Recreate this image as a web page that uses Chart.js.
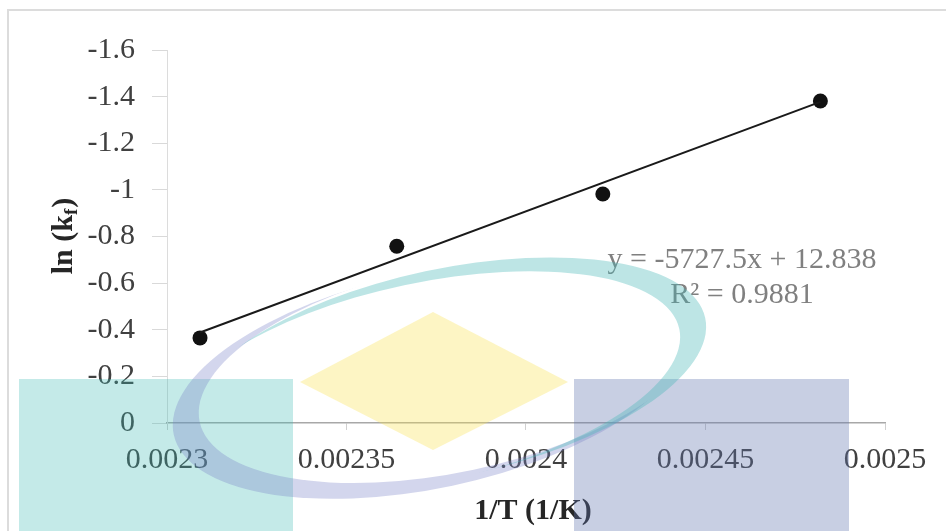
<!DOCTYPE html>
<html>
<head>
<meta charset="utf-8">
<script src="https://cdn.jsdelivr.net/npm/chart.js@4/dist/chart.umd.min.js"></script>
<style>
  html, body { margin: 0; padding: 0; background: #ffffff; }
  #wrap { width: 946px; height: 531px; position: relative; }
  canvas { display: block; }
</style>
</head>
<body>
<div id="wrap"><canvas id="c" width="946" height="531"></canvas></div>
<script>
// ---- data ----
const xValues = [0.0023092, 0.002364, 0.0024214, 0.002482];   // 1/T (1/K)
const yValues = [-0.365, -0.758, -0.982, -1.381];             // ln(kf)
const trendSlope = -5727.5;
const trendIntercept = 12.838;
const trendR2 = 0.9881;
const xTickValues = [0.0023, 0.00235, 0.0024, 0.00245, 0.0025];
const xTickLabels = ['0.0023', '0.00235', '0.0024', '0.00245', '0.0025'];
const yTickValues = [-1.6, -1.4, -1.2, -1, -0.8, -0.6, -0.4, -0.2, 0];
const yTickLabels = ['-1.6', '-1.4', '-1.2', '-1', '-0.8', '-0.6', '-0.4', '-0.2', '0'];
const xTitle = '1/T (1/K)';
const yTitleMain = 'ln (k';
const yTitleSub = 'f';
const yTitleEnd = ')';
const eqLine1 = 'y = -5727.5x + 12.838';
const eqLine2 = 'R\u00B2 = ' + trendR2;

const scatterPoints = xValues.map((x, i) => ({ x: x, y: yValues[i] }));
const xMinData = Math.min(...xValues), xMaxData = Math.max(...xValues);
const trendPoints = [xMinData, xMaxData].map(x => ({ x: x, y: trendSlope * x + trendIntercept }));

const SERIF = '"Liberation Serif", "Times New Roman", serif';

function labelFor(values, labels, v) {
  const i = values.findIndex(t => Math.abs(t - v) < 1e-9);
  return i >= 0 ? labels[i] : '';
}

const decorPlugin = {
  id: 'decor',
  beforeDraw(chart) {
    const g = chart.ctx;
    g.save();
    g.strokeStyle = '#dcdcdc';
    g.lineWidth = 2;
    g.beginPath();
    g.moveTo(8, 531); g.lineTo(8, 10); g.lineTo(946, 10);
    g.stroke();
    g.restore();
  },
  afterDraw(chart) {
    const g = chart.ctx;
    const area = chart.chartArea;
    g.save();
    // x title
    g.fillStyle = '#262626';
    g.font = 'bold 30px ' + SERIF;
    g.textAlign = 'center';
    g.textBaseline = 'alphabetic';
    g.fillText(xTitle, (area.left + area.right) / 2 + 7, 519);
    // y title (rotated, with subscript)
    g.save();
    g.translate(72, (area.top + area.bottom) / 2);
    g.rotate(-Math.PI / 2);
    const fMain = 'bold 30px ' + SERIF, fSub = 'bold 19px ' + SERIF;
    g.font = fMain; const w1 = g.measureText(yTitleMain).width; const w3 = g.measureText(yTitleEnd).width;
    g.font = fSub; const w2 = g.measureText(yTitleSub).width;
    let x0 = -(w1 + w2 + w3) / 2;
    g.textAlign = 'left';
    g.font = fMain; g.fillText(yTitleMain, x0, 0);
    g.font = fSub; g.fillText(yTitleSub, x0 + w1, 5);
    g.font = fMain; g.fillText(yTitleEnd, x0 + w1 + w2 + 1, 0);
    g.restore();
    // trendline equation
    g.fillStyle = '#808080';
    g.font = '30px ' + SERIF;
    g.textAlign = 'center';
    g.fillText(eqLine1, 742, 268);
    g.fillText(eqLine2, 742, 303);
    g.restore();

    // ---- watermark overlay ----
    const W = chart.width, H = chart.height;
    g.save();
    g.globalAlpha = 0.3;
    g.fillStyle = 'rgb(58,185,178)';
    g.fillRect(19, 379, 274, 152);
    g.globalAlpha = 0.35;
    g.fillStyle = 'rgb(98,118,175)';
    g.fillRect(574, 379, 275, 152);
    g.globalAlpha = 0.33;
    g.fillStyle = 'rgb(249,224,75)';
    g.beginPath();
    g.moveTo(433, 312); g.lineTo(568, 382); g.lineTo(433, 450); g.lineTo(300, 382);
    g.closePath(); g.fill();
    g.restore();

    function crescent(cx, cy, rx, ry, rot, dx, dy, dr, color, alpha) {
      const off = document.createElement('canvas');
      off.width = W; off.height = H;
      const o = off.getContext('2d');
      o.fillStyle = color;
      o.beginPath(); o.ellipse(cx, cy, rx, ry, rot, 0, 2 * Math.PI); o.fill();
      o.globalCompositeOperation = 'destination-out';
      o.beginPath(); o.ellipse(cx + dx, cy + dy, rx - dr, ry - dr, rot, 0, 2 * Math.PI); o.fill();
      g.save(); g.globalAlpha = alpha; g.drawImage(off, 0, 0); g.restore();
    }
    const rot = -12 * Math.PI / 180;
    crescent(430, 380, 262, 108, rot, 22, -12, 4, 'rgb(120,128,198)', 0.32);
    crescent(447, 373, 264, 104, rot, -22, 10, 4, 'rgb(72,184,184)', 0.36);
  }
};

new Chart(document.getElementById('c'), {
  type: 'scatter',
  data: {
    datasets: [
      {
        type: 'line',
        label: 'Trend',
        data: trendPoints,
        borderColor: '#1a1a1a',
        borderWidth: 2,
        pointRadius: 0,
        fill: false,
        tension: 0
      },
      {
        type: 'scatter',
        label: 'ln(kf)',
        data: scatterPoints,
        backgroundColor: '#111111',
        borderColor: '#111111',
        borderWidth: 0,
        pointRadius: 7.5,
        pointHoverRadius: 7.5
      }
    ]
  },
  options: {
    responsive: false,
    devicePixelRatio: 1,
    animation: false,
    layout: { padding: { top: 50, right: 61, left: 0, bottom: 0 } },
    plugins: { legend: { display: false }, tooltip: { enabled: false } },
    scales: {
      x: {
        type: 'linear',
        position: 'bottom',
        min: 0.0023,
        max: 0.0025,
        afterBuildTicks: s => { s.ticks = xTickValues.map(v => ({ value: v })); },
        afterFit: s => { s.height = 108; },
        ticks: {
          autoSkip: false,
          maxRotation: 0,
          minRotation: 0,
          padding: 12,
          color: '#404040',
          font: { family: SERIF, size: 30 },
          callback: v => labelFor(xTickValues, xTickLabels, v)
        },
        grid: { drawOnChartArea: false, drawTicks: true, tickLength: 7, color: '#d0d0d0' },
        border: { display: true, color: '#a8a8a8', width: 1.5 }
      },
      y: {
        type: 'linear',
        position: 'left',
        reverse: true,
        min: -1.6,
        max: 0,
        afterBuildTicks: s => { s.ticks = yTickValues.map(v => ({ value: v })); },
        afterFit: s => { s.width = 167; },
        ticks: {
          autoSkip: false,
          padding: 17,
          color: '#404040',
          font: { family: SERIF, size: 30 },
          callback: v => labelFor(yTickValues, yTickLabels, v)
        },
        grid: { drawOnChartArea: false, drawTicks: true, tickLength: 15, color: '#d9d9d9' },
        border: { display: true, color: '#dcdcdc', width: 1 }
      }
    }
  },
  plugins: [decorPlugin]
});
</script>
</body>
</html>
